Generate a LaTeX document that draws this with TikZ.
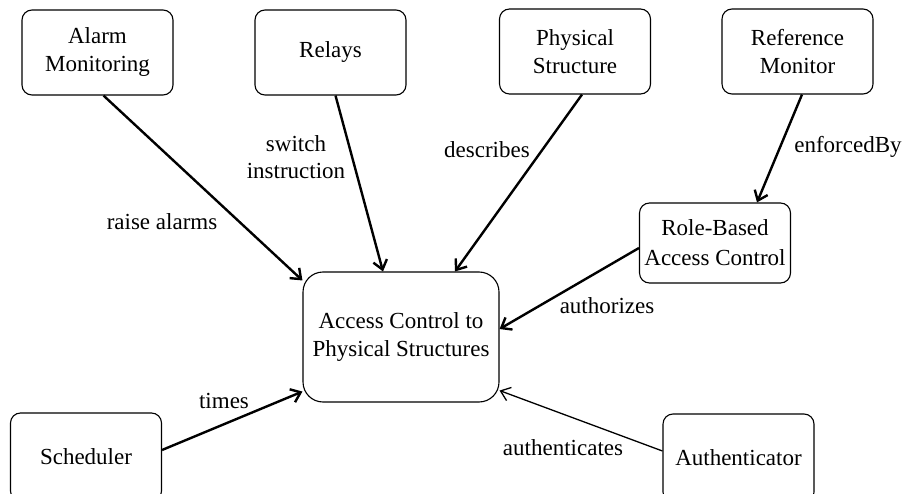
\documentclass[tikz,border=0pt]{standalone}
\usepackage{fontspec}
\setmainfont{Liberation Serif}
\usetikzlibrary{arrows.meta}

\tikzset{
  box/.style={draw, line width=1.1pt, rounded corners=10pt, align=center,
    minimum width=151pt, minimum height=85pt, inner sep=0pt},
  rel/.style={-{Straight Barb[length=9pt,width=14pt]}, line width=2.4pt},
  thinrel/.style={-{Straight Barb[length=9pt,width=14pt]}, line width=1.3pt},
}

\begin{document}
\begin{tikzpicture}[x=1pt, y=-1pt, font=\fontsize{23}{28}\selectfont]
    \clip (0,0) rectangle (904,494);

    \node[box] (alarm) at (97.5,52.5) {Alarm\\Monitoring};
    \node[box] (relays) at (330.5,52.5) {Relays};
    \node[box] (physstruct) at (575,51.5) {Physical\\Structure};
    \node[box] (refmon) at (797.5,51.5) {Reference\\Monitor};
    \node[box, minimum height=80pt, font=\fontsize{23}{30}\selectfont] (rbac) at (715,243) {Role-Based\\Access Control};
    \node[box, minimum width=196pt, minimum height=130pt, rounded corners=20pt] (acps) at (401,337) {Access Control to\\Physical Structures};
    \node[box, minimum height=88pt] (sched) at (86,457) {Scheduler};
    \node[box, minimum height=88pt] (auth) at (738.5,458) {Authenticator};

    \draw[rel] ([xshift=6pt]alarm.south) -- ([yshift=-9pt]acps.north west);
    \draw[rel] ([xshift=5pt]relays.south) -- ([xshift=-18pt]acps.north);
    \draw[rel] ([xshift=7pt]physstruct.south) -- ([xshift=54pt]acps.north);
    \draw[rel] ([xshift=4.5pt]refmon.south) -- ([xshift=42pt]rbac.north);
    \draw[rel] ([yshift=-5pt]rbac.west) -- ([yshift=8pt]acps.east);
    \draw[rel] ([yshift=7pt]sched.east) -- ([yshift=11pt]acps.south west);
    \draw[thinrel] ([yshift=7pt]auth.west) -- ([yshift=12pt]acps.south east);

    \node (lblraise) at (162,222) {raise alarms};
    \node[align=center, font=\fontsize{23}{27}\selectfont] (lblswitch) at (296,157) {switch\\instruction};
    \node (lbldescr) at (487,150) {describes};
    \node (lblenforce) at (848,147) {enforcedBy};
    \node (lblauthz) at (607,306) {authorizes};
    \node (lbltimes) at (224,401) {times};
    \node (lblauthn) at (563,448) {authenticates};
\end{tikzpicture}
\end{document}
